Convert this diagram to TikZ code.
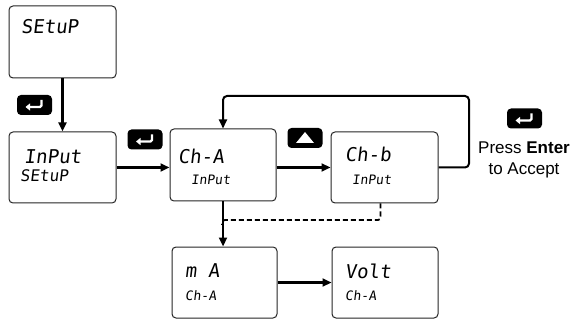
\documentclass[tikz,border=0pt]{standalone}
\usepackage{fontspec}
\setmainfont{Liberation Sans}
\newfontfamily\segfont[FakeSlant=0.12]{DejaVu Sans Mono}
\usetikzlibrary{arrows.meta}
\begin{document}
\begin{tikzpicture}[x=1pt,y=-1pt,
  disp/.style={draw=black!85, line width=1pt, rounded corners=4pt, fill=white},
  key/.style={fill=black, rounded corners=4pt, minimum width=35pt, minimum height=20pt, inner sep=0pt},
  bigtxt/.style={anchor=west, inner sep=0pt, font=\segfont\fontsize{19}{19}\selectfont},
  smalltxt/.style={anchor=west, inner sep=0pt, font=\segfont\fontsize{13}{13}\selectfont},
  midtxt/.style={anchor=west, inner sep=0pt, font=\segfont\fontsize{16}{16}\selectfont},
  flow/.style={line width=2.4pt, -{Triangle[length=9pt,width=8pt]}},
  loopline/.style={line width=2pt, rounded corners=4pt, -{Triangle[length=9pt,width=8pt]}},
  dashline/.style={line width=1.8pt, dash pattern=on 5pt off 3pt},
  entersym/.style={white, line width=2.2pt, -{Triangle[length=4.5pt,width=7pt]}, rounded corners=1.5pt}
]
\useasboundingbox (0,0) rectangle (572,320);

% display boxes
\node[disp, minimum width=107pt, minimum height=72pt] (b1) at (62.5,42) {};
\node[disp, minimum width=107pt, minimum height=71pt] (b2) at (62.5,167.5) {};
\node[disp, minimum width=106pt, minimum height=72pt] (b3) at (223,165) {};
\node[disp, minimum width=107pt, minimum height=71pt] (b4) at (384.5,167.5) {};
\node[disp, minimum width=105pt, minimum height=71pt] (b5) at (224.5,282.5) {};
\node[disp, minimum width=106pt, minimum height=71pt] (b6) at (385,282.5) {};

% display texts
\node[bigtxt] (t1) at (21,27) {SEtuP};
\node[bigtxt] (t2a) at (24,157) {InPut};
\node[midtxt] (t2b) at (20,176) {SEtuP};
\node[bigtxt] (t3a) at (178,156) {Ch-A};
\node[smalltxt] (t3b) at (191,180) {InPut};
\node[bigtxt] (t4a) at (345,154) {Ch-b};
\node[smalltxt] (t4b) at (352,180) {InPut};
\node[bigtxt] (t5a) at (185,271) {m A};
\node[smalltxt] (t5b) at (185,296) {Ch-A};
\node[bigtxt] (t6a) at (345,271) {Volt};
\node[smalltxt] (t6b) at (345,296) {Ch-A};

% keys
\node[key] (k1) at (34.5,105) {};
\node[key] (k2) at (145,139.5) {};
\node[key] (k3) at (305,138) {};
\node[key] (k4) at (524.5,118.5) {};
\foreach \k in {k1,k2,k4}{
  \draw[entersym] ([shift={(7,-5)}]\k.center) -- ([shift={(7,2)}]\k.center) -- ([shift={(-9,2)}]\k.center);
}
\fill[white] ([shift={(-9,5)}]k3.center) -- ([shift={(9,5)}]k3.center) -- ([shift={(0,-6)}]k3.center) -- cycle;

% press enter text
\node[align=center, inner sep=0pt, font=\fontsize{17}{21}\selectfont] (pe) at (524,160) {Press \textbf{Enter}\\to Accept};

% connectors
\draw[flow] (b1.south) -- (b2.north);
\draw[flow] (b2.east) -- (b2.east -| b3.west);
\draw[flow] (b4.west -| b3.east) -- (b4.west);
\coordinate (lr) at (469,96);
\draw[loopline] (b4.east) -| (lr) -| (b3.north);
\draw[flow] (b3.south) -- (b3.south |- b5.north);
\coordinate (jn) at (227,220);
\coordinate (dc) at (375,220);
\draw[dashline] ([xshift=-4pt]b4.south) -- (380.5,214) .. controls (380.5,220) .. (dc) -- (jn) .. controls (223,220) .. (222,225);
\draw[flow] (b5.east) -- (b5.east -| b6.west);
\end{tikzpicture}
\end{document}
